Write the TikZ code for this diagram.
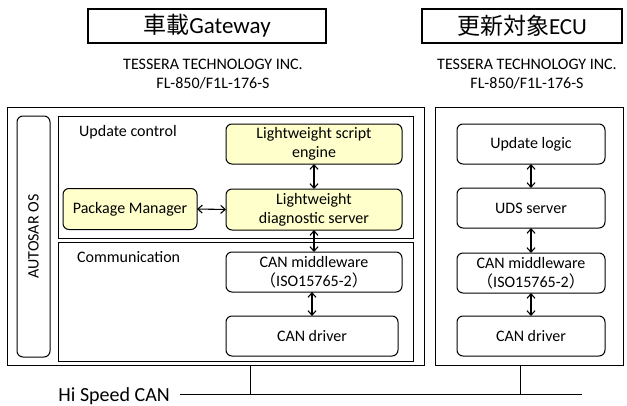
\documentclass[tikz,border=0pt]{standalone}
\usepackage{fontspec}
\setmainfont{Carlito}
\newfontfamily\cjk{Noto Sans CJK JP}
\usetikzlibrary{arrows.meta}
\definecolor{yfill}{HTML}{FFFFCC}
\newcommand{\isoline}{{\cjk （}ISO15765-2{\cjk ）}}
\begin{document}
\begin{tikzpicture}[x=1pt,y=-1pt,
  box/.style={draw, rounded corners=6pt, line width=1pt, align=center,
    font=\fontsize{16}{19}\selectfont, inner sep=1pt, outer sep=0pt},
  ybox/.style={box, fill=yfill},
  frame/.style={draw, line width=1pt, inner sep=0pt, outer sep=0pt, anchor=north west},
  titlebox/.style={draw, line width=1.2pt, inner sep=0pt, outer sep=0pt, anchor=north west},
  lbl/.style={font=\fontsize{16}{19}\selectfont, anchor=west, inner sep=0pt},
  sub/.style={font=\fontsize{16}{19}\selectfont, align=center, inner sep=0pt},
  dar/.style={{Straight Barb[length=4.5pt,width=8pt]}-{Straight Barb[length=4.5pt,width=8pt]}, line width=1.1pt},
  bus/.style={line width=1pt}]
\useasboundingbox (0,0) rectangle (627,405);
% titles
\node[titlebox, minimum width=238pt, minimum height=34pt] (t1) at (88,9) {};
\node[font=\fontsize{23}{26}\selectfont, inner sep=0pt] (t1t) at (t1.center) {\cjk 車載\rmfamily Gateway};
\node[titlebox, minimum width=200pt, minimum height=34pt] (t2) at (422,9) {};
\node[font=\fontsize{23}{26}\selectfont, inner sep=0pt] (t2t) at (t2.center) {\cjk 更新対象\rmfamily ECU};
\node[sub] (s1) at (213,74) {TESSERA TECHNOLOGY INC.\\FL-850/F1L-176-S};
\node[sub] (s2) at (527,74) {TESSERA TECHNOLOGY INC.\\FL-850/F1L-176-S};
% outer frames
\node[frame, minimum width=417pt, minimum height=258pt] (lo) at (7,107) {};
\node[frame, minimum width=188pt, minimum height=258pt] (ro) at (435,107) {};
% AUTOSAR OS
\node[draw, line width=1pt, rounded corners=6pt, minimum width=33pt, minimum height=241pt,
  anchor=north west, inner sep=0pt, outer sep=0pt] (os) at (17,116) {};
\node[rotate=90, font=\fontsize{16}{19}\selectfont, inner sep=0pt] (ost) at (os.center) {AUTOSAR OS};
% inner frames
\node[frame, minimum width=355pt, minimum height=122pt] (uc) at (58,116) {};
\node[lbl] (uct) at (79,132) {Update control};
\node[frame, minimum width=355pt, minimum height=119pt] (cm) at (58,242) {};
\node[lbl] (cmt) at (77,257) {Communication};
% left column boxes
\node[ybox, minimum width=176pt, minimum height=40pt] (lse) at (314,144) {Lightweight script\\engine};
\node[ybox, minimum width=176pt, minimum height=41pt] (lds) at (314,209.5) {Lightweight\\diagnostic server};
\node[ybox, minimum width=134pt, minimum height=41pt] (pm) at (130,209) {Package Manager};
\node[box, minimum width=176pt, minimum height=40pt] (canm) at (314,272) {CAN middleware\\\isoline};
\node[box, minimum width=172pt, minimum height=40pt] (cand) at (312,336) {CAN driver};
% right column boxes
\node[box, minimum width=148pt, minimum height=40pt] (ul) at (531,144) {Update logic};
\node[box, minimum width=148pt, minimum height=40pt] (uds) at (531,208) {UDS server};
\node[box, minimum width=148pt, minimum height=40pt] (canm2) at (531,273) {CAN middleware\\\isoline};
\node[box, minimum width=148pt, minimum height=40pt] (cand2) at (531,336) {CAN driver};
% arrows
\draw[dar] (lse.south) -- (lds.north);
\draw[dar] (lds.south) -- (canm.north);
\draw[dar] (canm.south -| cand.north) -- (cand.north);
\draw[dar] (pm.east) -- (lds.west);
\draw[dar] (ul.south) -- (uds.north);
\draw[dar] (uds.south) -- (canm2.north);
\draw[dar] (canm2.south) -- (cand2.north);
% bus
\node[font=\fontsize{20}{24}\selectfont, inner sep=0pt, anchor=east] (hs) at (170,396) {Hi Speed CAN};
\coordinate (busL) at (180,394);
\coordinate (busR) at (582,394);
\coordinate (tapL) at (250,394);
\coordinate (tapR) at (520,394);
\draw[bus] (busL) -- (busR);
\draw[bus] (tapL |- lo.south) -- (tapL);
\draw[bus] (tapR |- ro.south) -- (tapR);
\end{tikzpicture}
\end{document}
